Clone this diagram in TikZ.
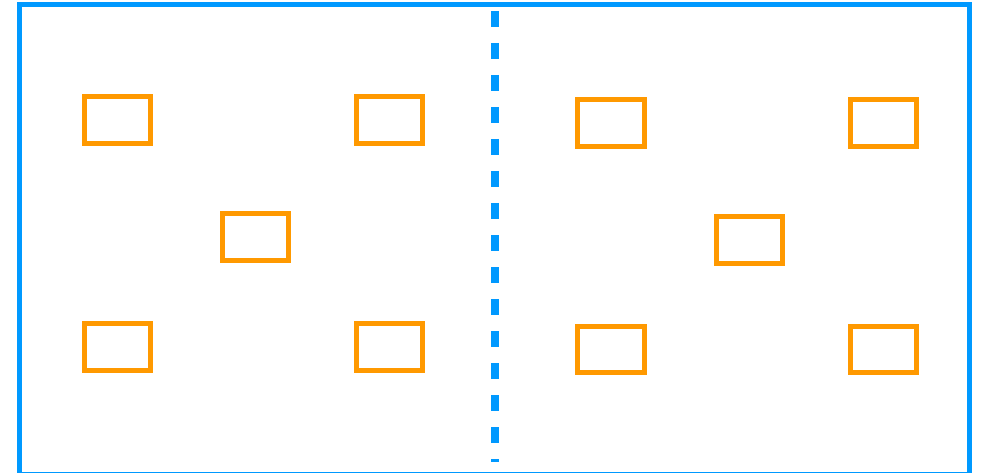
\documentclass[tikz,border=0pt]{standalone}
\definecolor{frameblue}{RGB}{0,153,255}
\definecolor{boxorange}{RGB}{255,153,0}
\tikzset{
  seat/.style={draw=boxorange, line width=5pt, minimum width=66.5pt, minimum height=46.5pt, inner sep=0pt, outer sep=0pt},
  frameline/.style={draw=frameblue, line width=5pt},
  divider/.style={draw=frameblue, line width=7.5pt, dash pattern=on 16pt off 16pt}
}
\begin{document}
\begin{tikzpicture}[x=1pt,y=-1pt]
\useasboundingbox (0,0) rectangle (982,473);
\draw[frameline] (19,4.5) rectangle (969.5,474);
\coordinate (dtop) at (495,11);
\coordinate (dbot) at (495,462);
\draw[divider] (dtop) -- (dbot);
% left room
\node[seat] (l1) at (117.5,120) {};
\node[seat] (l2) at (389.5,120) {};
\node[seat] (l3) at (255.5,237) {};
\node[seat] (l4) at (117.5,347) {};
\node[seat] (l5) at (389.5,347) {};
% right room
\node[seat] (r1) at (611,123) {};
\node[seat] (r2) at (883.5,123) {};
\node[seat] (r3) at (749.5,240) {};
\node[seat] (r4) at (611,349.5) {};
\node[seat] (r5) at (883.5,349.5) {};
\end{tikzpicture}
\end{document}
